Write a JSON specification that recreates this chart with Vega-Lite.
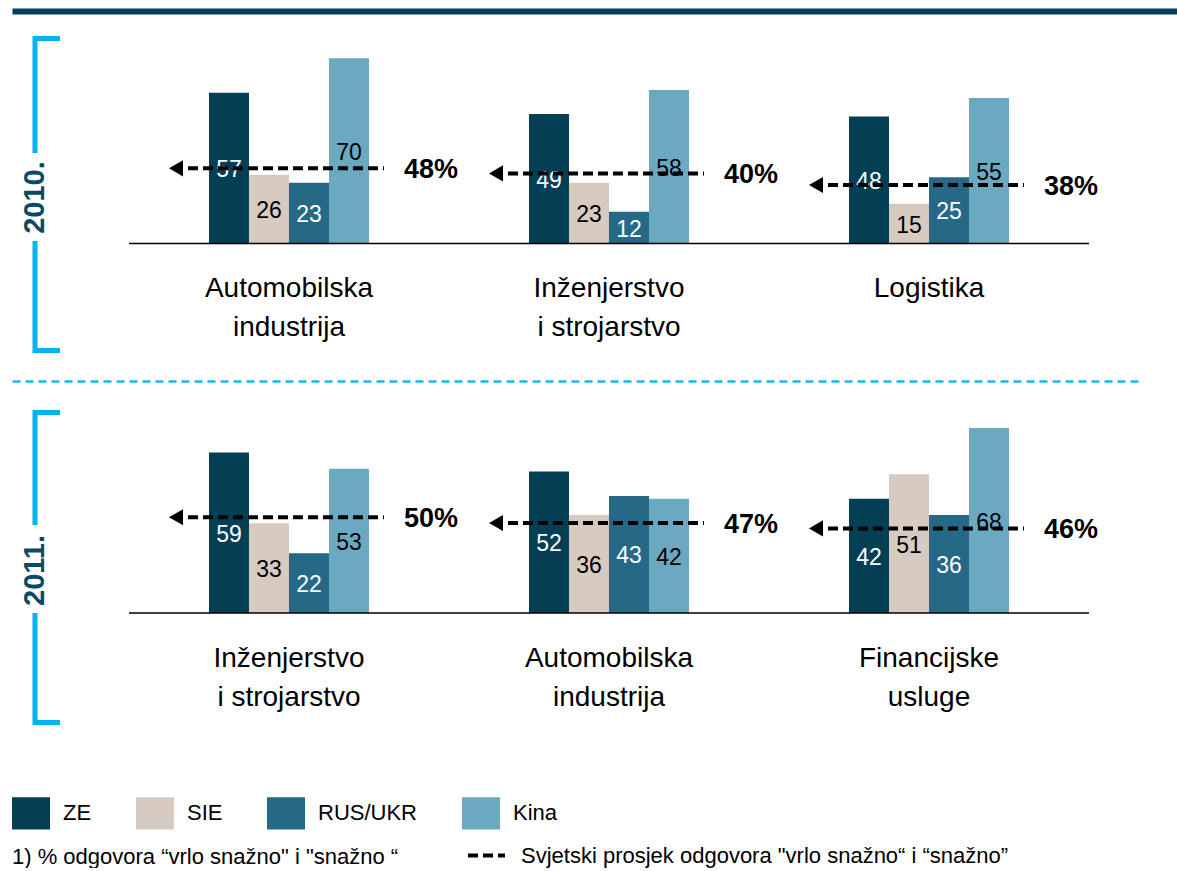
{
  "$schema": "https://vega.github.io/schema/vega-lite/v6.json",
  "padding": {"left": 12, "top": 11, "right": 0, "bottom": 0},
  "autosize": {"type": "pad"},
  "background": "white",
  "bounds": "flush",
  "spacing": 62,
  "config": {
    "font": "Liberation Sans, Arial",
    "view": {"stroke": null}
  },
  "datasets": {
    "bars": [
      {"year": 2010, "group": "Automobilska\nindustrija", "series": "ZE", "value": 57},
      {"year": 2010, "group": "Automobilska\nindustrija", "series": "SIE", "value": 26},
      {"year": 2010, "group": "Automobilska\nindustrija", "series": "RUS/UKR", "value": 23},
      {"year": 2010, "group": "Automobilska\nindustrija", "series": "Kina", "value": 70},
      {"year": 2010, "group": "Inženjerstvo\ni strojarstvo", "series": "ZE", "value": 49},
      {"year": 2010, "group": "Inženjerstvo\ni strojarstvo", "series": "SIE", "value": 23},
      {"year": 2010, "group": "Inženjerstvo\ni strojarstvo", "series": "RUS/UKR", "value": 12},
      {"year": 2010, "group": "Inženjerstvo\ni strojarstvo", "series": "Kina", "value": 58},
      {"year": 2010, "group": "Logistika", "series": "ZE", "value": 48},
      {"year": 2010, "group": "Logistika", "series": "SIE", "value": 15},
      {"year": 2010, "group": "Logistika", "series": "RUS/UKR", "value": 25},
      {"year": 2010, "group": "Logistika", "series": "Kina", "value": 55},
      {"year": 2011, "group": "Inženjerstvo\ni strojarstvo", "series": "ZE", "value": 59},
      {"year": 2011, "group": "Inženjerstvo\ni strojarstvo", "series": "SIE", "value": 33},
      {"year": 2011, "group": "Inženjerstvo\ni strojarstvo", "series": "RUS/UKR", "value": 22},
      {"year": 2011, "group": "Inženjerstvo\ni strojarstvo", "series": "Kina", "value": 53},
      {"year": 2011, "group": "Automobilska\nindustrija", "series": "ZE", "value": 52},
      {"year": 2011, "group": "Automobilska\nindustrija", "series": "SIE", "value": 36},
      {"year": 2011, "group": "Automobilska\nindustrija", "series": "RUS/UKR", "value": 43},
      {"year": 2011, "group": "Automobilska\nindustrija", "series": "Kina", "value": 42},
      {"year": 2011, "group": "Financijske\nusluge", "series": "ZE", "value": 42},
      {"year": 2011, "group": "Financijske\nusluge", "series": "SIE", "value": 51},
      {"year": 2011, "group": "Financijske\nusluge", "series": "RUS/UKR", "value": 36},
      {"year": 2011, "group": "Financijske\nusluge", "series": "Kina", "value": 68}
    ],
    "avg": [
      {"year": 2010, "group": "Automobilska\nindustrija", "level": 28.4, "pct": 0.48},
      {"year": 2010, "group": "Inženjerstvo\ni strojarstvo", "level": 26.5, "pct": 0.40},
      {"year": 2010, "group": "Logistika", "level": 22.1, "pct": 0.38},
      {"year": 2011, "group": "Inženjerstvo\ni strojarstvo", "level": 35.2, "pct": 0.50},
      {"year": 2011, "group": "Automobilska\nindustrija", "level": 33.1, "pct": 0.47},
      {"year": 2011, "group": "Financijske\nusluge", "level": 31.1, "pct": 0.46}
    ]
  },
  "resolve": {"scale": {"x": "independent", "y": "independent"}},
  "vconcat": [
    {
      "width": 1165,
      "height": 312,
      "resolve": {"scale": {"y": "independent"}, "axis": {"x": "independent", "y": "independent"}},
      "layer": [
        {
          "data": {"name": "bars"},
          "transform": [{"filter": "datum.year === 2010"}],
          "mark": {"type": "bar"},
          "encoding": {
            "x": {"field": "group", "type": "nominal", "sort": ["Automobilska\nindustrija", "Inženjerstvo\ni strojarstvo", "Logistika"],
              "scale": {"paddingInner": 0.5, "paddingOuter": 0.5703, "align": 0.5397},
              "axis": {"orient": "bottom", "offset": -106.5, "domain": false, "ticks": false, "title": null, "labelAngle": 0,
                "labelFontSize": 28, "labelColor": "black", "labelPadding": 31, "labelLineHeight": 39, "labelBaseline": "top",
                "labelExpr": "split(datum.label, '\\n')", "labelLimit": 1000}},
            "xOffset": {"field": "series", "type": "nominal", "sort": ["ZE", "SIE", "RUS/UKR", "Kina"], "scale": {"paddingInner": 0, "paddingOuter": 0}},
            "y": {"field": "value", "type": "quantitative", "scale": {"domain": [-40.3, 77.7], "nice": false},
              "axis": {"orient": "left", "offset": -22.5, "title": "2010.", "titleFontSize": 29, "titleFontWeight": "bold", "titleColor": "#0b4a63",
                "titleAngle": -90, "titleX": 0, "titleY": 159, "titleAlign": "center", "titleBaseline": "middle",
                "labels": false, "grid": false, "values": [-40.3, 77.7], "tickSize": -25, "tickWidth": 5, "tickColor": "#00b4f0",
                "domainColor": "#00b4f0", "domainWidth": 5, "domainDash": [107, 93, 300], "domainCap": "square"}},
            "color": {"field": "series", "type": "nominal", "sort": ["ZE", "SIE", "RUS/UKR", "Kina"],
              "scale": {"domain": ["ZE", "SIE", "RUS/UKR", "Kina"], "range": ["#053f56", "#d6cac1", "#256986", "#6ba9c1"]},
              "legend": {"orient": "none", "legendX": 0, "legendY": 756, "direction": "horizontal",
                "title": "1) % odgovora “vrlo snažno\" i \"snažno “", "titleOrient": "bottom", "titleAnchor": "start",
                "titleFontSize": 22, "titleFontWeight": "normal", "titlePadding": 17, "titleColor": "black", "titleLimit": 1000,
                "symbolType": "M-1,-0.85H1V0.85H-1Z", "symbolSize": 1444, "symbolStrokeWidth": 0, "symbolOpacity": 1,
                "labelFontSize": 22, "labelOffset": 13, "labelColor": "black", "columnPadding": 44, "padding": 0, "labelLimit": 1000}}
          }
        },
        {
          "data": {"name": "avg"},
          "transform": [{"filter": "datum.year === 2010"}],
          "mark": {"type": "rule", "xOffset": -160, "x2Offset": 160, "color": "black", "strokeWidth": 1.5},
          "encoding": {
            "x": {"field": "group", "type": "nominal", "sort": ["Automobilska\nindustrija", "Inženjerstvo\ni strojarstvo", "Logistika"], "axis": null},
            "x2": {"field": "group"},
            "y": {"datum": 0, "type": "quantitative", "scale": {"domain": [-40.3, 77.7], "nice": false}, "axis": null}
          }
        },
        {
          "data": {"name": "bars"},
          "transform": [{"filter": "datum.year === 2010"}],
          "mark": {"type": "text", "fontSize": 23, "align": "center", "baseline": "middle", "dy": 2},
          "encoding": {
            "x": {"field": "group", "type": "nominal", "sort": ["Automobilska\nindustrija", "Inženjerstvo\ni strojarstvo", "Logistika"], "axis": null},
            "xOffset": {"field": "series", "type": "nominal", "sort": ["ZE", "SIE", "RUS/UKR", "Kina"]},
            "y": {"field": "value", "type": "quantitative", "scale": {"domain": [-80.6, 155.4], "nice": false}, "axis": null},
            "text": {"field": "value", "type": "quantitative"},
            "color": {"condition": {"test": "datum.series === 'ZE' || datum.series === 'RUS/UKR'", "value": "white"}, "value": "black"}
          }
        },
        {
          "data": {"name": "avg"},
          "transform": [{"filter": "datum.year === 2010"}],
          "mark": {"type": "rule", "xOffset": -116, "x2Offset": 95, "color": "black", "strokeWidth": 4},
          "encoding": {
            "x": {"field": "group", "type": "nominal", "sort": ["Automobilska\nindustrija", "Inženjerstvo\ni strojarstvo", "Logistika"],
              "axis": {"orient": "top", "offset": 27, "domainColor": "#063f57", "domainWidth": 6, "labels": false, "ticks": false, "title": null, "grid": false}},
            "x2": {"field": "group"},
            "y": {"field": "level", "type": "quantitative", "scale": {"domain": [-40.3, 77.7], "nice": false}, "axis": null},
            "strokeDash": {"datum": "Svjetski prosjek odgovora  \"vrlo snažno“ i “snažno”", "type": "nominal", "scale": {"range": [[10, 5]]},
              "legend": {"orient": "none", "legendX": 454, "legendY": 797, "title": null, "symbolType": "stroke", "symbolSize": 1369,
                "symbolStrokeWidth": 4, "symbolStrokeColor": "black", "labelFontSize": 22, "labelOffset": 14, "labelLimit": 1000, "labelColor": "black", "padding": 0}}
          }
        },
        {
          "data": {"name": "avg"},
          "transform": [{"filter": "datum.year === 2010"}],
          "mark": {"type": "point", "shape": "triangle-left", "filled": true, "color": "black", "opacity": 1, "size": 260, "xOffset": -113},
          "encoding": {
            "x": {"field": "group", "type": "nominal", "sort": ["Automobilska\nindustrija", "Inženjerstvo\ni strojarstvo", "Logistika"], "axis": null},
            "y": {"field": "level", "type": "quantitative", "scale": {"domain": [-40.3, 77.7], "nice": false}, "axis": null}
          }
        },
        {
          "data": {"name": "avg"},
          "transform": [{"filter": "datum.year === 2010"}],
          "mark": {"type": "text", "dx": 142, "dy": 2, "fontSize": 27, "fontWeight": "bold", "align": "center", "baseline": "middle", "color": "black"},
          "encoding": {
            "x": {"field": "group", "type": "nominal", "sort": ["Automobilska\nindustrija", "Inženjerstvo\ni strojarstvo", "Logistika"], "axis": null},
            "y": {"field": "level", "type": "quantitative", "scale": {"domain": [-40.3, 77.7], "nice": false}, "axis": null},
            "text": {"field": "pct", "type": "quantitative", "format": ".0%"}
          }
        }
      ]
    },
    {
      "width": 1165,
      "height": 310,
      "resolve": {"scale": {"y": "independent"}, "axis": {"x": "independent", "y": "independent"}},
      "layer": [
        {
          "data": {"name": "bars"},
          "transform": [{"filter": "datum.year === 2011"}],
          "mark": {"type": "bar"},
          "encoding": {
            "x": {"field": "group", "type": "nominal", "sort": ["Inženjerstvo\ni strojarstvo", "Automobilska\nindustrija", "Financijske\nusluge"],
              "scale": {"paddingInner": 0.5, "paddingOuter": 0.5703, "align": 0.5397},
              "axis": {"orient": "bottom", "offset": -109, "domain": false, "ticks": false, "title": null, "labelAngle": 0,
                "labelFontSize": 28, "labelColor": "black", "labelPadding": 31, "labelLineHeight": 39, "labelBaseline": "top",
                "labelExpr": "split(datum.label, '\\n')", "labelLimit": 1000}},
            "xOffset": {"field": "series", "type": "nominal", "sort": ["ZE", "SIE", "RUS/UKR", "Kina"], "scale": {"paddingInner": 0, "paddingOuter": 0}},
            "y": {"field": "value", "type": "quantitative", "scale": {"domain": [-40.1, 73.9], "nice": false},
              "axis": {"orient": "left", "offset": -22.5, "title": "2011.", "titleFontSize": 29, "titleFontWeight": "bold", "titleColor": "#0b4a63",
                "titleAngle": -90, "titleX": 0, "titleY": 158, "titleAlign": "center", "titleBaseline": "middle",
                "labels": false, "grid": false, "values": [-40.1, 73.9], "tickSize": -25, "tickWidth": 5, "tickColor": "#00b4f0",
                "domainColor": "#00b4f0", "domainWidth": 5, "domainDash": [107, 93, 300], "domainCap": "square"}},
            "color": {"field": "series", "type": "nominal", "sort": ["ZE", "SIE", "RUS/UKR", "Kina"],
              "scale": {"domain": ["ZE", "SIE", "RUS/UKR", "Kina"], "range": ["#053f56", "#d6cac1", "#256986", "#6ba9c1"]},
              "legend": {"orient": "none", "legendX": 0, "legendY": 756, "direction": "horizontal",
                "title": "1) % odgovora “vrlo snažno\" i \"snažno “", "titleOrient": "bottom", "titleAnchor": "start",
                "titleFontSize": 22, "titleFontWeight": "normal", "titlePadding": 17, "titleColor": "black", "titleLimit": 1000,
                "symbolType": "M-1,-0.85H1V0.85H-1Z", "symbolSize": 1444, "symbolStrokeWidth": 0, "symbolOpacity": 1,
                "labelFontSize": 22, "labelOffset": 13, "labelColor": "black", "columnPadding": 44, "padding": 0, "labelLimit": 1000}}
          }
        },
        {
          "data": {"name": "avg"},
          "transform": [{"filter": "datum.year === 2011"}],
          "mark": {"type": "rule", "xOffset": -160, "x2Offset": 160, "color": "black", "strokeWidth": 1.5},
          "encoding": {
            "x": {"field": "group", "type": "nominal", "sort": ["Inženjerstvo\ni strojarstvo", "Automobilska\nindustrija", "Financijske\nusluge"], "axis": null},
            "x2": {"field": "group"},
            "y": {"datum": 0, "type": "quantitative", "scale": {"domain": [-40.1, 73.9], "nice": false}, "axis": null}
          }
        },
        {
          "data": {"name": "bars"},
          "transform": [{"filter": "datum.year === 2011"}],
          "mark": {"type": "text", "fontSize": 23, "align": "center", "baseline": "middle", "dy": 2},
          "encoding": {
            "x": {"field": "group", "type": "nominal", "sort": ["Inženjerstvo\ni strojarstvo", "Automobilska\nindustrija", "Financijske\nusluge"], "axis": null},
            "xOffset": {"field": "series", "type": "nominal", "sort": ["ZE", "SIE", "RUS/UKR", "Kina"]},
            "y": {"field": "value", "type": "quantitative", "scale": {"domain": [-80.2, 147.8], "nice": false}, "axis": null},
            "text": {"field": "value", "type": "quantitative"},
            "color": {"condition": {"test": "datum.series === 'ZE' || datum.series === 'RUS/UKR'", "value": "white"}, "value": "black"}
          }
        },
        {
          "data": {"name": "avg"},
          "transform": [{"filter": "datum.year === 2011"}],
          "mark": {"type": "rule", "xOffset": -116, "x2Offset": 95, "color": "black", "strokeWidth": 4},
          "encoding": {
            "x": {"field": "group", "type": "nominal", "sort": ["Inženjerstvo\ni strojarstvo", "Automobilska\nindustrija", "Financijske\nusluge"],
              "axis": {"orient": "top", "offset": 31, "domainColor": "#1bb5f0", "domainWidth": 2.5,
                "domainDash": [8,5,8,5,8,5,8,5,8,5,8,5,8,5,8,5,8,5,8,5,8,5,8,5,8,5,8,5,8,5,8,5,8,5,8,5,8,5,8,5,8,5,8,5,8,5,8,5,8,5,8,5,8,5,8,5,8,5,8,5,8,5,8,5,8,5,8,5,8,5,8,5,8,5,8,5,8,5,8,5,8,5,8,5,8,5,8,5,8,5,8,5,8,5,8,5,8,5,8,5,8,5,8,5,8,5,8,5,8,5,8,5,8,5,8,5,8,5,8,5,8,5,8,5,8,5,8,5,8,5,8,5,8,5,8,5,8,5,8,5,8,5,8,5,8,5,8,5,8,5,8,5,8,5,8,5,8,5,8,5,8,5,8,5,8,5,8,5,8,5,8,5,8,200],
                "labels": false, "ticks": false, "title": null, "grid": false}},
            "x2": {"field": "group"},
            "y": {"field": "level", "type": "quantitative", "scale": {"domain": [-40.1, 73.9], "nice": false}, "axis": null},
            "strokeDash": {"datum": "Svjetski prosjek odgovora  \"vrlo snažno“ i “snažno”", "type": "nominal", "scale": {"range": [[10, 5]]},
              "legend": {"orient": "none", "legendX": 454, "legendY": 797, "title": null, "symbolType": "stroke", "symbolSize": 1369,
                "symbolStrokeWidth": 4, "symbolStrokeColor": "black", "labelFontSize": 22, "labelOffset": 14, "labelLimit": 1000, "labelColor": "black", "padding": 0}}
          }
        },
        {
          "data": {"name": "avg"},
          "transform": [{"filter": "datum.year === 2011"}],
          "mark": {"type": "point", "shape": "triangle-left", "filled": true, "color": "black", "opacity": 1, "size": 260, "xOffset": -113},
          "encoding": {
            "x": {"field": "group", "type": "nominal", "sort": ["Inženjerstvo\ni strojarstvo", "Automobilska\nindustrija", "Financijske\nusluge"], "axis": null},
            "y": {"field": "level", "type": "quantitative", "scale": {"domain": [-40.1, 73.9], "nice": false}, "axis": null}
          }
        },
        {
          "data": {"name": "avg"},
          "transform": [{"filter": "datum.year === 2011"}],
          "mark": {"type": "text", "dx": 142, "dy": 2, "fontSize": 27, "fontWeight": "bold", "align": "center", "baseline": "middle", "color": "black"},
          "encoding": {
            "x": {"field": "group", "type": "nominal", "sort": ["Inženjerstvo\ni strojarstvo", "Automobilska\nindustrija", "Financijske\nusluge"], "axis": null},
            "y": {"field": "level", "type": "quantitative", "scale": {"domain": [-40.1, 73.9], "nice": false}, "axis": null},
            "text": {"field": "pct", "type": "quantitative", "format": ".0%"}
          }
        }
      ]
    }
  ]
}
